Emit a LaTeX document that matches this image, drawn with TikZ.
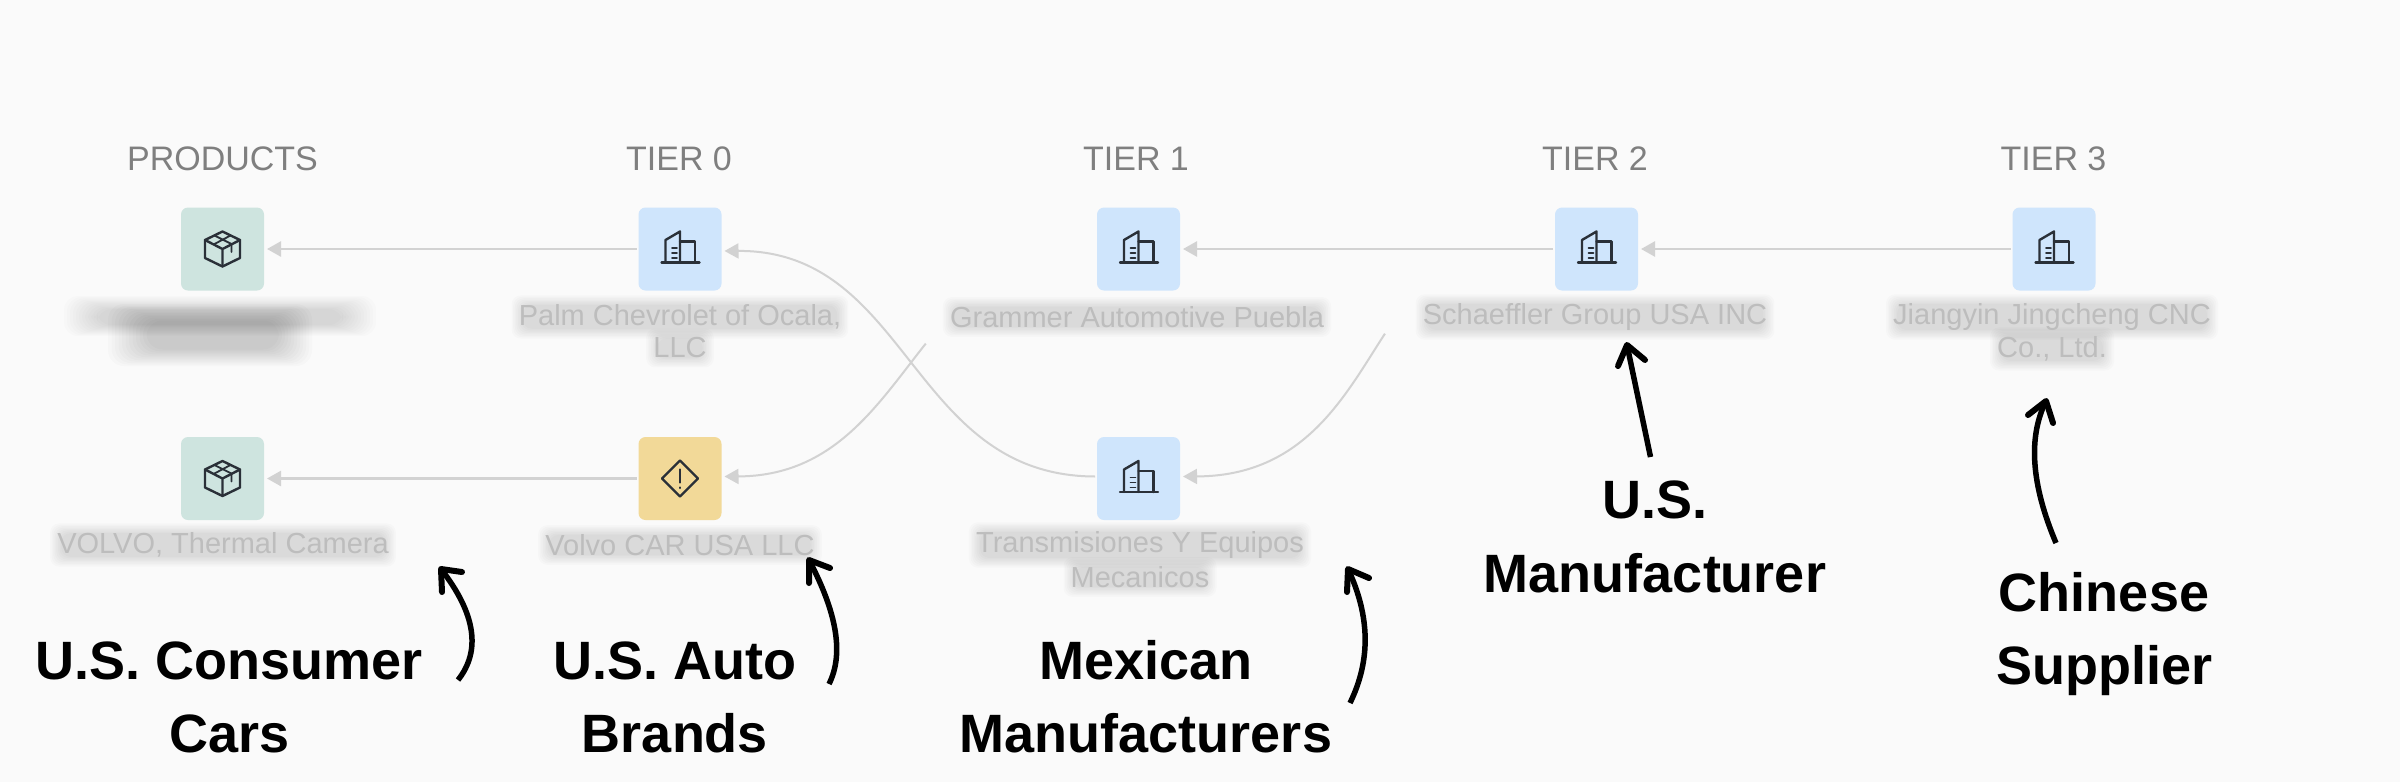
\documentclass[tikz,border=0pt]{standalone}
\usepackage{fontspec}
\setmainfont{Liberation Sans}
\usetikzlibrary{arrows.meta,calc}
\pgfdeclarelayer{under}
\pgfsetlayers{under,main}
\definecolor{bgc}{HTML}{FAFAFA}
\definecolor{tgreen}{HTML}{CEE4DF}
\definecolor{tblue}{HTML}{CFE5FC}
\definecolor{tyellow}{HTML}{F2D998}
\definecolor{flowc}{HTML}{D2D2D2}
\definecolor{iconc}{HTML}{2A3038}
\definecolor{headc}{HTML}{7F7F7F}
\definecolor{softc}{HTML}{BDBDBD}
\tikzset{
  tile/.style={rounded corners=7pt,minimum size=83pt,inner sep=0pt,outer sep=0pt,draw=none},
  head/.style={anchor=base,inner sep=0pt,text=headc,font=\fontsize{34}{36}\selectfont},
  call/.style={anchor=south,align=center,inner sep=0pt,text depth=0pt,text=black,font=\fontsize{54}{73.5}\selectfont\bfseries},
  flow/.style={draw=flowc,line width=2.5pt,shorten >=3pt,shorten <=2pt,-{Triangle[length=14pt,width=15pt,fill=flowc]}},
  curve/.style={flow,line width=2pt},
  mark shaft/.style={draw=black,line width=5.5pt},
  mark head/.style={draw=black,line width=6pt,line cap=round,line join=round},
  softtext/.style={anchor=center,inner sep=0pt,text=softc,font=\fontsize{29}{31}\selectfont},
  icon/.style={draw=iconc,line width=2.4pt,line join=round,line cap=round,fill=none},
  bldgicon/.pic={
    \draw[icon] (-18.5,13.5) -- (19.5,13.5);
    \draw[icon] (-14.5,13.5) -- (-14.5,-9) -- (0,-17.5) -- (0,13.5);
    \draw[icon] (0,-7.5) -- (15,-7.5) -- (15,13.5);
    \draw[icon,line width=1.6pt] (-8,-1) -- (-3,-1) (-8,4) -- (-3,4) (-8,9) -- (-3,9);
  },
  boxicon/.pic={
    \draw[icon] (0,-17.5) -- (17.5,-9) -- (17.5,9) -- (0,17.5) -- (-17.5,9) -- (-17.5,-9) -- cycle;
    \draw[icon] (-17.5,-9) -- (0,0) -- (17.5,-9) (0,0) -- (0,17.5);
    \draw[icon,line width=1.8pt] (-8,-13.5) -- (9,-5) -- (9,3) (8,-13.5) -- (-8,-5);
  },
  warnicon/.pic={
    \draw[icon] (0,-18) -- (18,0) -- (0,18) -- (-18,0) -- cycle;
    \draw[icon] (0,-9) -- (0,4) (0,9) -- (0,9.5);
  },
}
% one real text with a soft grey band under it
\newcommand{\softlabel}[3]{%
  \node[softtext] (#3) at (#1) {#2};
  \begin{pgfonlayer}{under}
    \foreach \g in {0,1,...,7}{
      \fill[black,opacity=0.016,rounded corners=9pt]
        ([xshift={-7pt+\g*1.6pt},yshift={-9pt+\g*1.4pt}]#3.south west)
        rectangle ([xshift={7pt-\g*1.6pt},yshift={9pt-\g*1.4pt}]#3.north east);
    }
  \end{pgfonlayer}%
}
\begin{document}
\begin{tikzpicture}[x=1pt,y=-1pt]
\useasboundingbox (0,0) rectangle (2400,782);
\begin{pgfonlayer}{under}
\fill[bgc] (0,0) rectangle (2400,782);
\end{pgfonlayer}

% column heads
\node[head] (hp) at (222.5,170) {PRODUCTS};
\node[head] (h0) at (679,170) {TIER 0};
\node[head] (h1) at (1136,170) {TIER 1};
\node[head] (h2) at (1595,170) {TIER 2};
\node[head] (h3) at (2053.5,170) {TIER 3};

% tiles
\node[tile,fill=tgreen] (pa) at (222.5,249) {};
\node[tile,fill=tgreen] (pb) at (222.5,478.5) {};
\node[tile,fill=tblue] (ta) at (680,249) {};
\node[tile,fill=tyellow] (tb) at (680,478.5) {};
\node[tile,fill=tblue] (ua) at (1138.5,249) {};
\node[tile,fill=tblue] (ub) at (1138.5,478.5) {};
\node[tile,fill=tblue] (va) at (1596.5,249) {};
\node[tile,fill=tblue] (wa) at (2054,249) {};

% icons
\pic at (pa) {boxicon};
\pic at (pb) {boxicon};
\pic at (ta) {bldgicon};
\pic at (tb) {warnicon};
\pic at (ua) {bldgicon};
\pic at (ub) {bldgicon};
\pic at (va) {bldgicon};
\pic at (wa) {bldgicon};

% straight connectors
\draw[flow] (ta.west) -- (pa.east);
\draw[flow] (tb.west) -- (pb.east);
\draw[flow] (va.west) -- (ua.east);
\draw[flow] (wa.west) -- (va.east);

% curved connectors
\coordinate (fadeu) at (927,342);
\coordinate (fadev) at (1386,332);
\draw[curve] ([yshift=2pt]ub.west) .. controls (910,476) and (910,250) .. ([yshift=-2pt]ta.east);
\draw[curve] (fadeu) .. controls (877,405) and (834,476) .. ([yshift=2pt]tb.east);
\draw[curve] (fadev) .. controls (1345,395) and (1305,476) .. ([yshift=2pt]ub.east);

% soft labels
\coordinate (la1) at (680,317);
\coordinate (la2) at (680,348);
\coordinate (lb) at (1137,317);
\coordinate (lc) at (1595,317);
\coordinate (ld1) at (2052,317);
\coordinate (ld2) at (2052,349);
\coordinate (le) at (223,545);
\coordinate (lf) at (680,545);
\coordinate (lg1) at (1140,545);
\coordinate (lg2) at (1140,577);
\softlabel{la1}{Palm Chevrolet of Ocala,}{nla}
\softlabel{la2}{LLC}{nlb}
\softlabel{lb}{Grammer Automotive Puebla}{nlc}
\softlabel{lc}{Schaeffler Group USA INC}{nld}
\softlabel{ld1}{Jiangyin Jingcheng CNC}{nle}
\softlabel{ld2}{Co., Ltd.}{nlf}
\softlabel{le}{VOLVO, Thermal Camera}{nlg}
\softlabel{lf}{Volvo CAR USA LLC}{nlh}
\softlabel{lg1}{Transmisiones Y Equipos}{nli}
\softlabel{lg2}{Mecanicos}{nlj}

% smudged product label
\foreach \g in {0,1,...,11}{
  \fill[black,opacity=0.012,rounded corners=14pt] (64+\g*3,296+\g*1.2) rectangle (376-\g*3,336-\g*1);
  \fill[black,opacity=0.016,rounded corners=16pt] (108+\g*3.5,304+\g*1.5) rectangle (312-\g*3,366-\g*1.5);
}

% call-outs
\node[call] (ca) at (229.5,753) {U.S. Consumer\\Cars};
\node[call] (cb) at (675,753) {U.S. Auto\\Brands};
\node[call] (cc) at (1146,753) {Mexican\\Manufacturers};
\node[call] (cd) at (1655,592.5) {U.S.\\Manufacturer};
\node[call] (ce) at (2104,685) {Chinese\\Supplier};

% call-out arrows
\coordinate (a1t) at (458,680); \coordinate (a1p) at (441,569);
\draw[mark shaft] (a1t) .. controls (481,651) and (476,614) .. (a1p);
\draw[mark head] (442,592) -- (a1p) -- (462,572);
\coordinate (a2t) at (829,684); \coordinate (a2p) at (809,560);
\draw[mark shaft] (a2t) .. controls (844,654) and (837,613) .. (a2p);
\draw[mark head] (809,583) -- (a2p) -- (830,568);
\coordinate (a3t) at (1350,703); \coordinate (a3p) at (1348,569);
\draw[mark shaft] (a3t) .. controls (1371,660) and (1370,616) .. (a3p);
\draw[mark head] (1347,592) -- (a3p) -- (1369,578);
\coordinate (a4t) at (1650.5,457); \coordinate (a4p) at (1627,345);
\draw[mark shaft] (a4t) -- (a4p);
\draw[mark head] (1618,366) -- (a4p) -- (1645,360);
\coordinate (a5t) at (2056,543); \coordinate (a5p) at (2046,401);
\draw[mark shaft] (a5t) .. controls (2031,484) and (2028,437) .. (a5p);
\draw[mark head] (2028,415) -- (a5p) -- (2053,423);
\end{tikzpicture}
\end{document}
